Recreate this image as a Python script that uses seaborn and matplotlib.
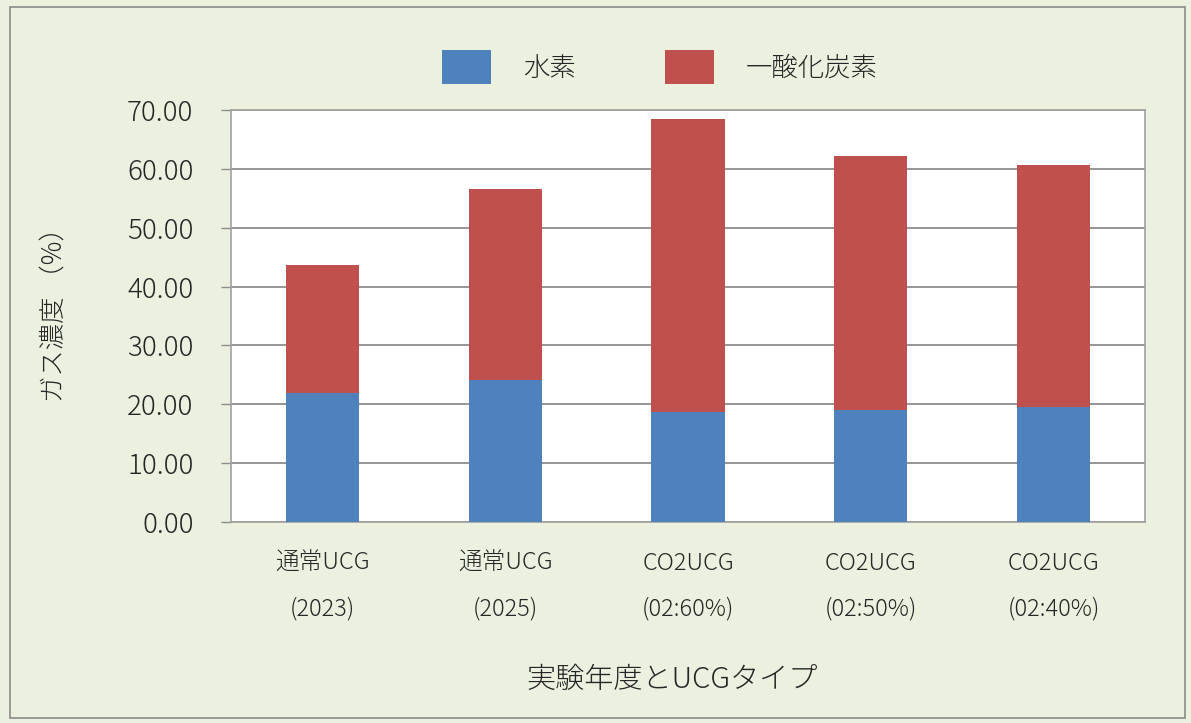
import matplotlib
matplotlib.use("Agg")
import matplotlib.pyplot as plt
from matplotlib.patches import Patch, Rectangle
import seaborn as sns
import pandas as pd

# Gas composition by experiment year / UCG type (%)
categories = ["通常UCG\n(2023)", "通常UCG\n(2025)", "CO2UCG\n(02:60%)",
              "CO2UCG\n(02:50%)", "CO2UCG\n(02:40%)"]
hydrogen = [22.0, 24.1, 18.7, 19.1, 19.6]
carbon_monoxide = [21.7, 32.4, 49.8, 43.0, 41.0]
y_ticks = [0, 10, 20, 30, 40, 50, 60, 70]
series_names = ["水素", "一酸化炭素"]

BLUE = "#4F81BD"
RED = "#C0504D"
BG = "#EBF1DE"
GRID = "#8C8C8C"
TEXT = "#262626"

sns.set_style("white")
plt.rcParams["font.family"] = ["Noto Sans CJK JP", "DejaVu Sans"]
plt.rcParams["font.weight"] = "light"
plt.rcParams["axes.labelweight"] = "light"

df = pd.DataFrame({
    "category": categories,
    "h2": hydrogen,
    "total": [h + c for h, c in zip(hydrogen, carbon_monoxide)],
})

W, H = 1191, 723
fig = plt.figure(figsize=(W / 100, H / 100), dpi=100, facecolor=BG)
ax = fig.add_axes([231 / W, (H - 522) / H, 914 / W, 412 / H])
ax.set_facecolor("white")

# stacked bars: full height in red, hydrogen portion in blue on top
sns.barplot(data=df, x="category", y="total", color=RED, saturation=1,
            width=0.4, ax=ax, zorder=3, linewidth=0)
sns.barplot(data=df, x="category", y="h2", color=BLUE, saturation=1,
            width=0.4, ax=ax, zorder=4, linewidth=0)

ax.set_xlim(-0.5, len(categories) - 0.5)
ax.set_ylim(0, 70)
ax.set_yticks(y_ticks)
ax.set_yticklabels([f"{v:.2f}" for v in y_ticks], fontsize=20, color=TEXT)
ax.yaxis.grid(True, color=GRID, linewidth=1.3, zorder=0)
ax.set_axisbelow(True)

ax.set_xticks(range(len(categories)))
ax.set_xticklabels(categories, fontsize=17, color=TEXT, linespacing=2.05)
ax.set_xticks([i - 0.5 for i in range(len(categories) + 1)], minor=True)
ax.tick_params(axis="x", which="major", length=0, pad=21)
ax.tick_params(axis="x", which="minor", length=6, width=1, color="#8C8C8C",
               direction="out")
ax.tick_params(axis="y", which="major", length=7, width=1, color="#8C8C8C",
               direction="out", pad=20, left=True)

for side in ["left", "right", "top", "bottom"]:
    ax.spines[side].set_visible(True)
    ax.spines[side].set_color("#A0A0A0")
    ax.spines[side].set_linewidth(1.2)

ax.set_xlabel("実験年度とUCGタイプ", fontsize=21, color=TEXT)
ax.xaxis.set_label_coords(0.4825, -0.345)
ax.set_ylabel("ガス濃度 （%）", fontsize=19, color=TEXT)
ax.yaxis.set_label_coords(-0.179, 0.52)

handles = [Patch(facecolor=BLUE, edgecolor="none"),
           Patch(facecolor=RED, edgecolor="none")]
fig.legend(handles, series_names, loc="center", ncol=2,
           bbox_to_anchor=(660 / W, 1 - 67 / H), frameon=False,
           fontsize=19, handlelength=1.85, handleheight=1.6,
           handletextpad=1.2, columnspacing=3.4, labelcolor=TEXT)

# outer chart border
fig.add_artist(Rectangle((10 / W, 5 / H), 1175 / W, 711 / H,
                         transform=fig.transFigure, fill=False,
                         edgecolor="#8A8A8A", linewidth=1.2))

fig.savefig("out.png", dpi=100, facecolor=BG)
